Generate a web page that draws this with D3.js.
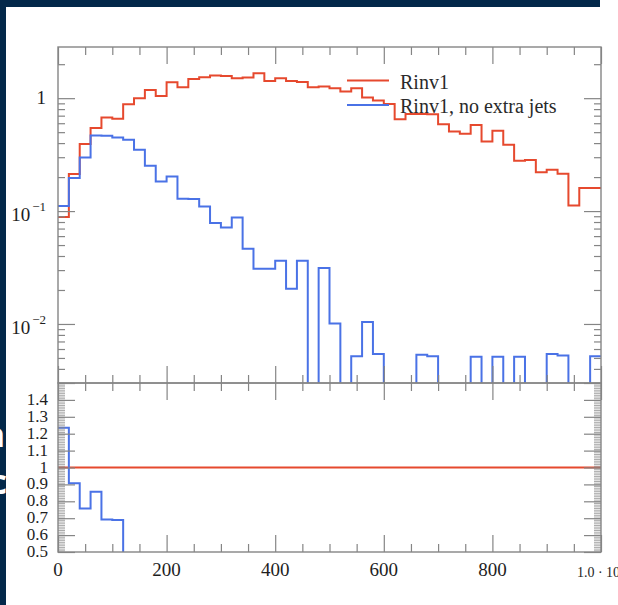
<!DOCTYPE html>
<html><head><meta charset="utf-8">
<script src="https://cdn.jsdelivr.net/npm/d3@7"></script>
<style>html,body{margin:0;padding:0;background:#fff;overflow:hidden}svg{display:block}</style>
</head><body><script>
// ---------- data ----------
const binEdges = [0,20,40,60,80,100,120,140,160,180,200,220,240,260,280,300,320,340,360,380,400,
  420,440,460,480,500,520,540,560,580,600,620,640,660,680,700,720,740,760,780,800,
  820,840,860,880,900,920,940,960,980,1000];
const seriesNames = ["Rinv1", "Rinv1, no extra jets"];
const redValues = [0.0885,0.2125,0.392,0.543,0.674,0.656,0.885,1.0,1.184,1.048,
  1.385,1.251,1.481,1.534,1.585,1.575,1.503,1.521,1.664,1.422,
  1.503,1.422,1.394,1.251,1.267,1.226,1.144,1.226,1.012,0.952,
  0.890,0.652,0.726,0.726,0.719,0.589,0.506,0.483,0.580,0.413,
  0.514,0.386,0.279,0.284,0.221,0.232,0.214,0.112,0.160,0.160];
const blueValues = [0.111,0.196,0.298,0.467,0.464,0.448,0.428,0.349,0.252,0.183,
  0.202,0.1285,0.1277,0.110,0.0783,0.0716,0.0878,0.0464,0.0308,0.0308,
  0.0363,0.0205,0.0363,0,0.0313,0.0101,0,0.00517,0.0104,0.00543,
  0,0,0,0.00535,0.00517,0,0,0,0.00512,0,
  0.00512,0,0.00512,0,0,0.00543,0.00527,0,0,0.00517];
const ratioBlue = [1.235,0.907,0.758,0.857,0.693,0.689,0.48,0.35,0.21,0.17,0.15,0.10];
const ratioRed = 1;
const xTickValues = [0,200,400,600,800,1000];
const xTickLabels = ["0","200","400","600","800","1.0 · 10"];
const yTickValues = [1,0.1,0.01];
const yTickBase = ["1","10","10"];
const yTickExp = ["","−1","−2"];
const ratioTickValues = [1.4,1.3,1.2,1.1,1,0.9,0.8,0.7,0.6,0.5];
const ratioTickLabels = ["1.4","1.3","1.2","1.1","1","0.9","0.8","0.7","0.6","0.5"];

// ---------- layout ----------
const W=618,H=605;
const L=58,R=601,T=47,MB=383,RB=552;
const RED="#e6492e", BLUE="#4a72e6", GRAY="#858585", TXT="#1e1e1e", NAVY="#03284a";
const FONT="'Liberation Serif', 'Times New Roman', serif";

const svg=d3.select("body").append("svg").attr("width",W).attr("height",H);
svg.append("rect").attr("width",W).attr("height",H).attr("fill","#fff");

// navy slide border
svg.append("rect").attr("x",0).attr("y",0).attr("width",600).attr("height",7).attr("fill",NAVY);
svg.append("rect").attr("x",0).attr("y",0).attr("width",6).attr("height",H).attr("fill",NAVY);
const defs=svg.append("defs");
defs.append("clipPath").attr("id","bandClip").append("rect").attr("x",0).attr("y",0).attr("width",6).attr("height",H);
const band=svg.append("g").attr("clip-path","url(#bandClip)");
band.append("text").attr("x",5).attr("y",447).attr("text-anchor","end")
  .attr("font-family","'Open Sans', sans-serif").attr("font-weight","bold").attr("font-size",34).attr("fill","#fff").text("n");
band.append("text").attr("x",7).attr("y",494).attr("text-anchor","end")
  .attr("font-family","'Open Sans', sans-serif").attr("font-weight","bold").attr("font-size",34).attr("fill","#fff").text("c");

// ---------- scales ----------
const x=d3.scaleLinear().domain([0,1000]).range([L,R]);
const y=d3.scaleLog().domain([0.003,2.84]).range([MB,T]);
const yr=d3.scaleLinear().domain([0.5,1.5]).range([RB,MB]);

defs.append("clipPath").attr("id","mainClip").append("rect").attr("x",L).attr("y",T).attr("width",R-L).attr("height",MB-T);
defs.append("clipPath").attr("id","ratioClip").append("rect").attr("x",L).attr("y",MB).attr("width",R-L).attr("height",RB-MB);

function stepPath(vals, sy, floorY){
  const pts=[];
  vals.forEach((v,i)=>{
    const yy = v>0 ? sy(v) : floorY;
    pts.push([x(binEdges[i]),yy],[x(binEdges[i+1]),yy]);
  });
  return d3.line()(pts);
}

// main histograms
const gm=svg.append("g").attr("clip-path","url(#mainClip)");
gm.append("path").attr("d",stepPath(redValues,y,MB+30)).attr("fill","none").attr("stroke",RED).attr("stroke-width",2);
gm.append("path").attr("d",stepPath(blueValues,y,MB+30)).attr("fill","none").attr("stroke",BLUE).attr("stroke-width",2);

// ratio
const gr=svg.append("g").attr("clip-path","url(#ratioClip)");
gr.append("line").attr("x1",x(0)).attr("x2",x(1000)).attr("y1",yr(ratioRed)).attr("y2",yr(ratioRed))
  .attr("stroke",RED).attr("stroke-width",2);
gr.append("path").attr("d",stepPath(ratioBlue,yr,RB+30)).attr("fill","none").attr("stroke",BLUE).attr("stroke-width",2);

// ---------- frames & ticks ----------
function ticks(axisFn, scale, vals, size, tr, sw){
  const g=svg.append("g").attr("transform",tr)
    .call(axisFn(scale).tickValues(vals).tickSize(size).tickSizeOuter(0).tickFormat(""));
  g.select(".domain").remove();
  g.selectAll("line").attr("stroke",GRAY).attr("stroke-width",sw||1.2);
}
const xMajor=x.ticks(5), xMinor=x.ticks(20).filter(v=>v%200!==0);
[T,MB].forEach(yy=>{ // ticks pointing down from top edges
  ticks(d3.axisBottom,x,xMajor,17,`translate(0,${yy})`);
  ticks(d3.axisBottom,x,xMinor,8,`translate(0,${yy})`);
});
[MB,RB].forEach(yy=>{ // ticks pointing up from bottom edges
  ticks(d3.axisTop,x,xMajor,17,`translate(0,${yy})`);
  ticks(d3.axisTop,x,xMinor,8,`translate(0,${yy})`);
});
const yMinor=y.ticks().filter(v=>!yTickValues.some(t=>Math.abs(t-v)/t<1e-6));
ticks(d3.axisRight,y,yTickValues,17,`translate(${L},0)`);
ticks(d3.axisRight,y,yMinor,7,`translate(${L},0)`);
ticks(d3.axisLeft,y,yTickValues,17,`translate(${R},0)`);
ticks(d3.axisLeft,y,yMinor,7,`translate(${R},0)`);
const rMajor=yr.ticks(10), rMinor=yr.ticks(100);
ticks(d3.axisRight,yr,rMajor,17,`translate(${L},0)`);
ticks(d3.axisRight,yr,rMinor,7,`translate(${L},0)`,0.7);
ticks(d3.axisLeft,yr,rMajor,17,`translate(${R},0)`);
ticks(d3.axisLeft,yr,rMinor,7,`translate(${R},0)`,0.7);

svg.append("rect").attr("x",L).attr("y",T).attr("width",R-L).attr("height",MB-T)
  .attr("fill","none").attr("stroke",GRAY).attr("stroke-width",1.4);
svg.append("rect").attr("x",L).attr("y",MB).attr("width",R-L).attr("height",RB-MB)
  .attr("fill","none").attr("stroke",GRAY).attr("stroke-width",1.4);

// ---------- labels ----------
xTickValues.forEach((v,i)=>{
  const last = i===xTickValues.length-1;
  const t=svg.append("text").attr("x",x(v)).attr("y",last?577:576).attr("text-anchor","middle")
    .attr("font-family",FONT).attr("font-size",last?14:19).attr("fill",TXT);
  t.append("tspan").text(xTickLabels[i]);
  if(last) t.append("tspan").attr("dy",-6).attr("font-size",10).text("3");
});
yTickValues.forEach((v,i)=>{
  const t=svg.append("text").attr("x",46).attr("y",y(v)+(yTickExp[i]?10:6)).attr("text-anchor","end")
    .attr("font-family",FONT).attr("font-size",19).attr("fill",TXT);
  t.append("tspan").text(yTickBase[i]);
  if(yTickExp[i]) t.append("tspan").attr("dx",2).attr("dy",-10).attr("font-size",13).text(yTickExp[i]);
});
ratioTickValues.forEach((v,i)=>{
  svg.append("text").attr("x",48).attr("y",yr(v)+5).attr("text-anchor","end")
    .attr("font-family",FONT).attr("font-size",17).attr("fill",TXT).text(ratioTickLabels[i]);
});

// ---------- legend ----------
const legY=[80.5,105];
[RED,BLUE].forEach((c,i)=>{
  svg.append("line").attr("x1",347).attr("x2",389).attr("y1",legY[i]).attr("y2",legY[i])
    .attr("stroke",c).attr("stroke-width",2);
  svg.append("text").attr("x",400).attr("y",legY[i]+8).attr("font-family",FONT).attr("font-size",20)
    .attr("fill","#2a2a2a").text(seriesNames[i]);
});
</script></body></html>
